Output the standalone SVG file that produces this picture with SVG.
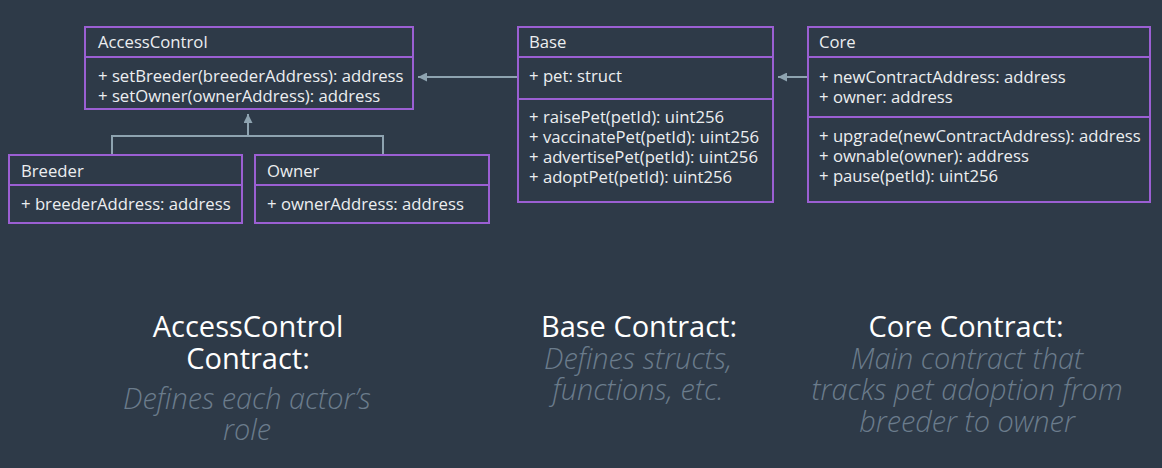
<svg xmlns="http://www.w3.org/2000/svg" width="1162" height="468" viewBox="0 0 1162 468">
<style>
.box{fill:#2e3a48;stroke:#9b5fd3;stroke-width:2}
.div{stroke:#9b5fd3;stroke-width:2}
.t{font-family:"Open Sans","Liberation Sans",sans-serif;font-size:16.7px;fill:#eceef0}
.conn{fill:none;stroke:#8ea3b0;stroke-width:2}
.h{font-family:"Open Sans","Liberation Sans",sans-serif;font-size:29px;font-weight:400;fill:#ffffff;text-anchor:middle}
.s{font-family:"Open Sans","Liberation Sans",sans-serif;font-size:28.9px;font-weight:300;font-style:italic;fill:#6b7c8c;text-anchor:middle}
</style>
<defs>
<marker id="ah" viewBox="0 0 10 10" refX="10" refY="5" markerWidth="10" markerHeight="9" markerUnits="userSpaceOnUse" orient="auto">
<path d="M0,0 L10,5 L0,10 z" fill="#8ea3b0"/>
</marker>
</defs>
<rect width="1162" height="468" fill="#2e3a48"/>
<g id="connectors">
<path class="conn" d="M112,155 V136 H383 V155"/>
<path class="conn" d="M248,136 V114" marker-end="url(#ah)"/>
<path class="conn" d="M518,77 H418" marker-end="url(#ah)"/>
<path class="conn" d="M807,77 H778" marker-end="url(#ah)"/>
</g>
<g id="AccessControl">
<rect class="box" x="85" y="27" width="328" height="82"/>
<line class="div" x1="85" y1="57" x2="413" y2="57"/>
<text class="t" x="98" y="48">AccessControl</text>
<text class="t" x="98" y="82">+ setBreeder(breederAddress): address</text>
<text class="t" x="98" y="102">+ setOwner(ownerAddress): address</text>
</g>
<g id="Breeder">
<rect class="box" x="9" y="155" width="233" height="68"/>
<line class="div" x1="9" y1="185" x2="242" y2="185"/>
<text class="t" x="21" y="177">Breeder</text>
<text class="t" x="21" y="210">+ breederAddress: address</text>
</g>
<g id="Owner">
<rect class="box" x="255" y="155" width="234" height="68"/>
<line class="div" x1="255" y1="185" x2="489" y2="185"/>
<text class="t" x="267" y="177">Owner</text>
<text class="t" x="267" y="210">+ ownerAddress: address</text>
</g>
<g id="Base">
<rect class="box" x="518" y="27" width="255" height="175"/>
<line class="div" x1="518" y1="57" x2="773" y2="57"/>
<line class="div" x1="518" y1="99" x2="773" y2="99"/>
<text class="t" x="529" y="48">Base</text>
<text class="t" x="529" y="82">+ pet: struct</text>
<text class="t" x="529" y="123">+ raisePet(petId): uint256</text>
<text class="t" x="529" y="143">+ vaccinatePet(petId): uint256</text>
<text class="t" x="529" y="163">+ advertisePet(petId): uint256</text>
<text class="t" x="529" y="183">+ adoptPet(petId): uint256</text>
</g>
<g id="Core">
<rect class="box" x="808" y="27" width="342" height="175"/>
<line class="div" x1="808" y1="57" x2="1150" y2="57"/>
<line class="div" x1="808" y1="117" x2="1150" y2="117"/>
<text class="t" x="819" y="48">Core</text>
<text class="t" x="819" y="83">+ newContractAddress: address</text>
<text class="t" x="819" y="103">+ owner: address</text>
<text class="t" x="819" y="142">+ upgrade(newContractAddress): address</text>
<text class="t" x="819" y="162">+ ownable(owner): address</text>
<text class="t" x="819" y="182">+ pause(petId): uint256</text>
</g>
<g id="captions">
<text class="h" x="248" y="337">AccessControl</text>
<text class="h" x="248" y="369">Contract:</text>
<text class="s" x="247" y="409">Defines each actor’s</text>
<text class="s" x="247" y="440">role</text>
<text class="h" x="639" y="337">Base Contract:</text>
<text class="s" x="638" y="369">Defines structs,</text>
<text class="s" x="638" y="400">functions, etc.</text>
<text class="h" x="966" y="337">Core Contract:</text>
<text class="s" x="967" y="369">Main contract that</text>
<text class="s" x="967" y="400">tracks pet adoption from</text>
<text class="s" x="967" y="432">breeder to owner</text>
</g>
</svg>
